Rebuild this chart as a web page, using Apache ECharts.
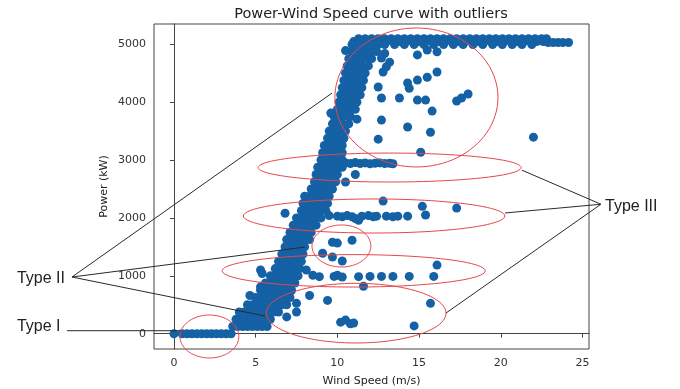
<!DOCTYPE html>
<html>
<head>
<meta charset="utf-8">
<title>Power-Wind Speed curve with outliers</title>
<script src="https://cdn.jsdelivr.net/npm/echarts@6/dist/echarts.min.js"></script>
<style>
  html, body { margin: 0; padding: 0; background: #fff; }
  #chart { width: 680px; height: 389px; }
</style>
</head>
<body>
<div id="chart"></div>
<script>
// tick labels
const xTicks = [0, 5, 10, 15, 20, 25]
const yTicks = [0, 1000, 2000, 3000, 4000, 5000]

// main power curve, one row per power level: [power, speed, speed, ...]
const curveRows = [
  [0, 0.0, 0.5, 0.8, 1.1, 1.4, 1.7, 2.0, 2.3, 2.6, 2.9, 3.2, 3.5],
  [125, 3.6, 3.9, 4.2, 4.5, 4.8, 5.1, 5.4, 5.7],
  [250, 3.8, 4.1, 4.4, 4.7, 5.0, 5.3, 5.6, 5.9],
  [375, 4.0, 4.3, 4.6, 4.9, 5.2, 5.5, 5.8, 6.1, 6.4],
  [500, 4.5, 4.8, 5.1, 5.4, 5.7, 6.0, 6.3, 6.6, 6.9],
  [625, 5.0, 5.3, 5.6, 5.9, 6.2, 6.5, 6.8, 7.1],
  [750, 5.3, 5.6, 5.9, 6.2, 6.5, 6.8, 7.2],
  [875, 5.6, 5.9, 6.2, 6.5, 6.8, 7.1, 7.4],
  [1000, 5.9, 6.2, 6.5, 6.8, 7.1, 7.4, 7.6],
  [1125, 6.2, 6.5, 6.8, 7.1, 7.4, 7.7],
  [1250, 6.4, 6.7, 7.0, 7.3, 7.6, 7.8],
  [1375, 6.6, 6.9, 7.2, 7.5, 7.9],
  [1500, 6.8, 7.1, 7.4, 7.7, 8.0],
  [1625, 6.9, 7.2, 7.5, 7.8, 8.1, 8.3],
  [1750, 7.1, 7.4, 7.7, 8.0, 8.4],
  [1875, 7.3, 7.6, 7.9, 8.2, 8.5, 8.7],
  [2000, 7.5, 7.8, 8.1, 8.4, 8.7, 9.0],
  [2125, 7.8, 8.1, 8.4, 8.7, 9.0, 9.3],
  [2250, 7.9, 8.2, 8.5, 8.8, 9.1, 9.4],
  [2375, 8.0, 8.3, 8.6, 8.9, 9.2, 9.5],
  [2500, 8.4, 8.7, 9.0, 9.3, 9.7],
  [2625, 8.6, 8.9, 9.2, 9.5, 9.9],
  [2750, 8.7, 9.0, 9.3, 9.6, 10.0],
  [2875, 8.8, 9.1, 9.4, 9.7, 10.0, 10.3],
  [3000, 9.0, 9.3, 9.6, 9.9, 10.3],
  [3125, 9.1, 9.4, 9.7, 10.0, 10.3],
  [3250, 9.2, 9.5, 9.8, 10.1, 10.3],
  [3375, 9.4, 9.7, 10.0, 10.4],
  [3500, 9.5, 9.8, 10.1, 10.5],
  [3625, 9.7, 10.0, 10.3, 10.7],
  [3750, 9.8, 10.1, 10.4, 10.8],
  [3875, 10.0, 10.3, 10.6, 10.9, 11.1],
  [4000, 10.1, 10.4, 10.7, 11.0, 11.2],
  [4125, 10.2, 10.5, 10.8, 11.1, 11.4],
  [4250, 10.3, 10.6, 10.9, 11.2, 11.5],
  [4375, 10.4, 10.7, 11.0, 11.3, 11.6],
  [4500, 10.5, 10.8, 11.1, 11.4, 11.7],
  [4625, 10.6, 10.9, 11.2, 11.5, 11.9],
  [4750, 10.7, 11.0, 11.3, 11.6, 11.9, 12.1],
  [4875, 10.9, 11.2, 11.5, 11.8, 12.1, 12.4],
]

// rated power plateau
const plateauRows = [
  [5095, 11.3, 11.7, 12.1, 12.5, 12.9, 13.3, 13.7, 14.1, 14.5, 14.9, 15.3, 15.7, 16.1, 16.5, 16.9, 17.3, 17.7, 18.1, 18.5, 18.9, 19.3, 19.7, 20.1, 20.5, 20.9, 21.3, 21.7, 22.1, 22.5, 22.8],
  [5045, 11.0, 11.4, 11.8, 12.2, 12.6, 13.0, 13.4, 13.8, 14.2, 14.6, 15.0, 15.4, 15.8, 16.2, 16.6, 17.0, 17.4, 17.8, 18.2, 18.6, 19.0, 19.4, 19.8, 20.2, 20.6, 21.0, 21.4, 21.8, 22.2, 22.6],
  [4995, 10.9, 11.3, 11.7, 12.1, 12.5, 12.9, 13.5, 14.1, 14.7, 15.3, 15.9, 16.5, 17.1, 17.7, 18.3, 18.9, 19.5, 20.1, 20.7, 21.3, 21.9],
  [5030, 22.9, 23.2, 23.5, 23.8, 24.15],
]

// scattered outliers [speed, power]
const outliers = [
  [10.5, 4890], [12.9, 4840], [14.9, 4815], [15.5, 4900], [16.1, 4870],
  [13.2, 4690], [12.7, 4760], [13.0, 4610], [12.8, 4520], [16.1, 4520], [15.5, 4430],
  [14.9, 4380], [14.3, 4330], [14.4, 4240], [12.5, 4260], [12.7, 4070], [13.8, 4070],
  [14.9, 4035], [15.4, 4035], [17.3, 4020], [17.6, 4070], [18.0, 4140],
  [15.8, 3845], [9.6, 3810], [11.2, 3705], [12.7, 3690], [14.3, 3570], [15.7, 3480],
  [12.5, 3360], [22.0, 3395], [15.1, 3135],
  [10.5, 2950], [10.8, 2940], [11.1, 2955], [11.4, 2940], [11.7, 2950], [12.0, 2935],
  [12.3, 2945], [12.6, 2950], [12.9, 2940], [13.2, 2945], [13.4, 2935],
  [11.1, 2750], [10.5, 2620],
  [6.8, 2080], [9.5, 2040], [10.0, 2030], [10.3, 2020], [10.6, 2040], [10.9, 2020],
  [11.1, 1990], [11.3, 1960], [11.5, 2030], [11.9, 2040], [12.2, 2020], [12.4, 2030],
  [13.0, 2030], [13.4, 2020], [13.7, 2030], [14.3, 2030], [15.4, 2050], [15.2, 2200],
  [17.3, 2170], [12.8, 2290],
  [9.7, 1580], [10.0, 1565], [10.9, 1615], [9.1, 1390], [9.7, 1325], [10.3, 1255],
  [5.3, 1100], [5.4, 1040], [8.1, 1100], [8.5, 1010], [8.9, 985], [9.8, 990],
  [10.0, 1010], [10.3, 980], [11.3, 985], [12.0, 990], [12.7, 990], [13.4, 990],
  [14.4, 990], [15.9, 990], [16.1, 1185], [11.6, 820],
  [4.65, 660], [5.3, 810], [7.5, 525], [8.3, 660], [9.4, 575], [7.5, 375], [6.9, 290],
  [10.2, 200], [10.5, 235], [10.8, 170], [11.0, 185], [14.7, 135], [15.7, 525],
]

// red ellipses around outlier groups: [speed, power, half width, half height]
const ellipses = [
  [14.84, 4080, 4.99, 1200],
  [13.2, 2870, 8.05, 250],
  [12.25, 2033, 8.0, 294],
  [10.25, 1515, 1.8, 363],
  [11.0, 1086, 8.05, 280],
  [11.15, 355, 5.5, 515],
  [2.17, -48, 1.8, 371],
]

// leader lines from the labels: [speed1, power1, speed2, power2]
const leaders = [
  [-6.24, 979, 9.67, 4155],
  [-6.24, 979, 8.02, 1497],
  [-6.24, 979, 5.57, 306],
  [-6.55, 52, 0.4, 52],
  [26.13, 2236, 21.3, 2824],
  [26.13, 2236, 20.26, 2085],
  [26.13, 2236, 16.65, 357],
]

// annotation labels: [text, speed, power]
const notes = [
  ["Type I", -9.61, 116],
  ["Type II", -9.61, 953],
  ["Type III", 26.38, 2188],
]

const points = curveRows.concat(plateauRows)
  .flatMap(([p, ...xs]) => xs.map((x) => [x, p]))
  .concat(outliers)

const chart = echarts.init(document.getElementById("chart"), null, { renderer: "canvas" })

const font = "DejaVu Sans"
const plain = (v) => String(v)

chart.setOption({
  animation: false,
  backgroundColor: "#fff",
  title: {
    text: "Power-Wind Speed curve with outliers",
    left: 366,
    top: 2,
    textAlign: "center",
    textStyle: { fontFamily: font, fontSize: 14.5, fontWeight: "normal", color: "#222" },
  },
  grid: {
    left: 154,
    right: 91,
    top: 24,
    bottom: 40,
    show: true,
    borderColor: "#444",
    borderWidth: 1,
    outerBoundsMode: "none",
  },
  xAxis: {
    type: "value",
    min: -1.22,
    max: 25.4,
    name: "Wind Speed (m/s)",
    nameLocation: "middle",
    nameGap: 27,
    nameMoveOverlap: false,
    nameTextStyle: { fontFamily: font, fontSize: 11, color: "#222" },
    axisLine: { show: true, lineStyle: { color: "#444" } },
    axisTick: { show: true, length: 4, customValues: xTicks, lineStyle: { color: "#444" } },
    axisLabel: { customValues: xTicks, formatter: plain, fontFamily: font, fontSize: 11, color: "#333", margin: 9 },
    splitLine: { show: false },
  },
  yAxis: {
    type: "value",
    min: -264,
    max: 5349,
    name: "Power (kW)",
    nameLocation: "middle",
    nameGap: 44,
    nameMoveOverlap: false,
    nameTextStyle: { fontFamily: font, fontSize: 11, color: "#222" },
    axisLine: { show: true, lineStyle: { color: "#444" } },
    axisTick: { show: true, length: 4, customValues: yTicks, lineStyle: { color: "#444" } },
    axisLabel: { customValues: yTicks, formatter: plain, fontFamily: font, fontSize: 11, color: "#333", margin: 8 },
    splitLine: { show: false },
  },
  series: [
    {
      type: "scatter",
      data: points,
      symbol: "circle",
      symbolSize: 9,
      itemStyle: { color: "#1461a5", opacity: 1, borderWidth: 0 },
      z: 2,
    },
    {
      type: "custom",
      clip: false,
      z: 5,
      data: ellipses,
      renderItem: (params, api) => {
        const c = api.coord([api.value(0), api.value(1)])
        const r = api.size([api.value(2), api.value(3)])
        const pts = []
        for (let i = 0; i <= 96; i++) {
          const a = (i / 96) * Math.PI * 2
          pts.push([c[0] + r[0] * Math.cos(a), c[1] + r[1] * Math.sin(a)])
        }
        return {
          type: "polyline",
          shape: { points: pts },
          style: { stroke: "#e5474d", lineWidth: 1, fill: null },
        }
      },
    },
    {
      type: "custom",
      clip: false,
      z: 6,
      data: leaders,
      renderItem: (params, api) => {
        const a = api.coord([api.value(0), api.value(1)])
        const b = api.coord([api.value(2), api.value(3)])
        return {
          type: "line",
          shape: { x1: a[0], y1: a[1], x2: b[0], y2: b[1] },
          style: { stroke: "#2a2a2a", lineWidth: 1 },
        }
      },
    },
    {
      type: "custom",
      clip: false,
      z: 7,
      data: notes.map((n) => [n[1], n[2]]),
      renderItem: (params, api) => {
        const p = api.coord([api.value(0), api.value(1)])
        return {
          type: "text",
          x: p[0],
          y: p[1],
          style: {
            text: notes[params.dataIndex][0],
            fill: "#222",
            fontSize: 16,
            fontFamily: "Liberation Sans",
            align: "left",
            verticalAlign: "middle",
          },
        }
      },
    },
  ],
})
</script>
</body>
</html>
